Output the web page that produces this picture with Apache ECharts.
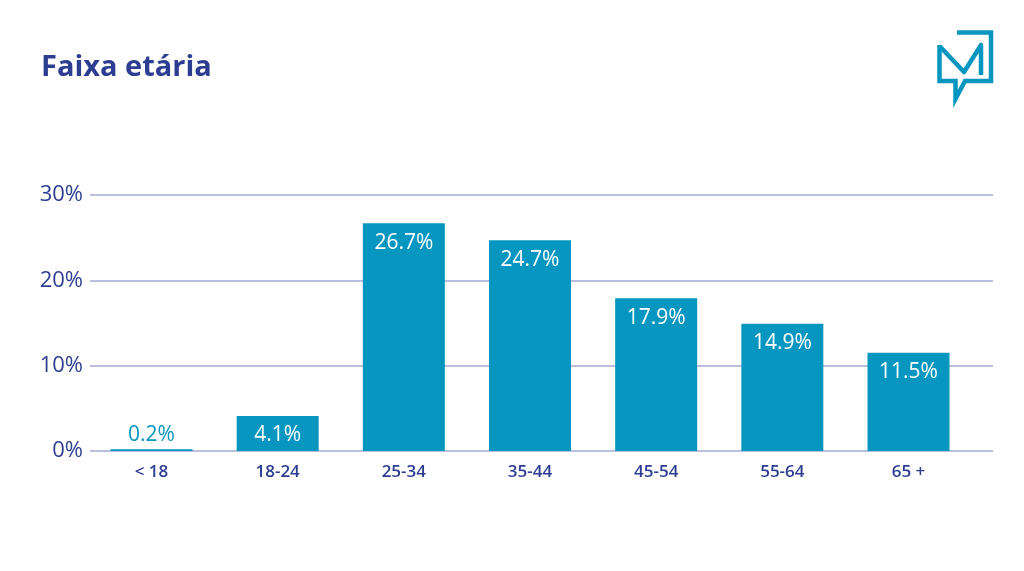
<!DOCTYPE html>
<html><head><meta charset="utf-8">
<script src="https://cdn.jsdelivr.net/npm/echarts@6/dist/echarts.min.js"></script>
<style>html,body{margin:0;padding:0;background:#fff}#c{width:1024px;height:571px}</style>
</head><body><div id="c"></div>
<script>
const categories = ['< 18', '18-24', '25-34', '35-44', '45-54', '55-64', '65 +'];
const values = [0.2, 4.1, 26.7, 24.7, 17.9, 14.9, 11.5];
const yTicks = [0, 10, 20, 30];
const titleText = 'Faixa etária';

const navy = '#2d3e92';
const teal = '#0796bf';
const font = 'Open Sans';

const chart = echarts.init(document.getElementById('c'));
chart.setOption({
  backgroundColor: '#ffffff',
  animation: false,
  title: {
    text: titleText, left: 36, top: 48,
    textStyle: {color: navy, fontFamily: font, fontWeight: 'bold', fontSize: 29}
  },
  grid: [
    {left: 88.4, right: 52.4, top: 195, bottom: 120},
    {left: 90, right: 31, top: 195, bottom: 120}
  ],
  xAxis: [
    {type: 'category', gridIndex: 0, data: categories,
     axisLine: {show: false}, axisTick: {show: false},
     axisLabel: {color: navy, fontFamily: font, fontSize: 17, fontWeight: 600, margin: 13}},
    {type: 'category', gridIndex: 1, data: [''], show: false}
  ],
  yAxis: [
    {type: 'value', gridIndex: 0, min: yTicks[0], max: yTicks[yTicks.length - 1], interval: 10, show: false},
    {type: 'value', gridIndex: 1, min: yTicks[0], max: yTicks[yTicks.length - 1], interval: 10,
     axisLine: {show: false}, axisTick: {show: false},
     axisLabel: {formatter: '{value}%', color: navy, fontFamily: font, fontSize: 22, margin: 7},
     splitLine: {lineStyle: {color: '#a4a9d4', width: 1.5}}}
  ],
  series: [{
    type: 'bar', xAxisIndex: 0, yAxisIndex: 0,
    data: values.map(v => ({
      value: v,
      label: v < 2 ? {position: 'top', color: teal, distance: 4} : {position: 'insideTop', color: '#ffffff', distance: 9}
    })),
    barWidth: 82,
    itemStyle: {color: teal},
    label: {show: true, fontFamily: font, fontSize: 21, formatter: p => p.value.toFixed(1) + '%'}
  }],
  graphic: [
    {type: 'polyline', shape: {points: [[957, 32.5], [991, 32.5], [991, 81], [965, 81], [955.5, 99], [955.5, 81], [939.5, 81], [939.5, 45]]},
     style: {stroke: teal, lineWidth: 4.5, fill: null, lineJoin: 'miter'}},
    {type: 'polyline', shape: {points: [[939.5, 46], [964, 72], [981, 45], [981, 75]]},
     style: {stroke: teal, lineWidth: 4.5, fill: null, lineJoin: 'round'}}
  ]
});
</script></body></html>
